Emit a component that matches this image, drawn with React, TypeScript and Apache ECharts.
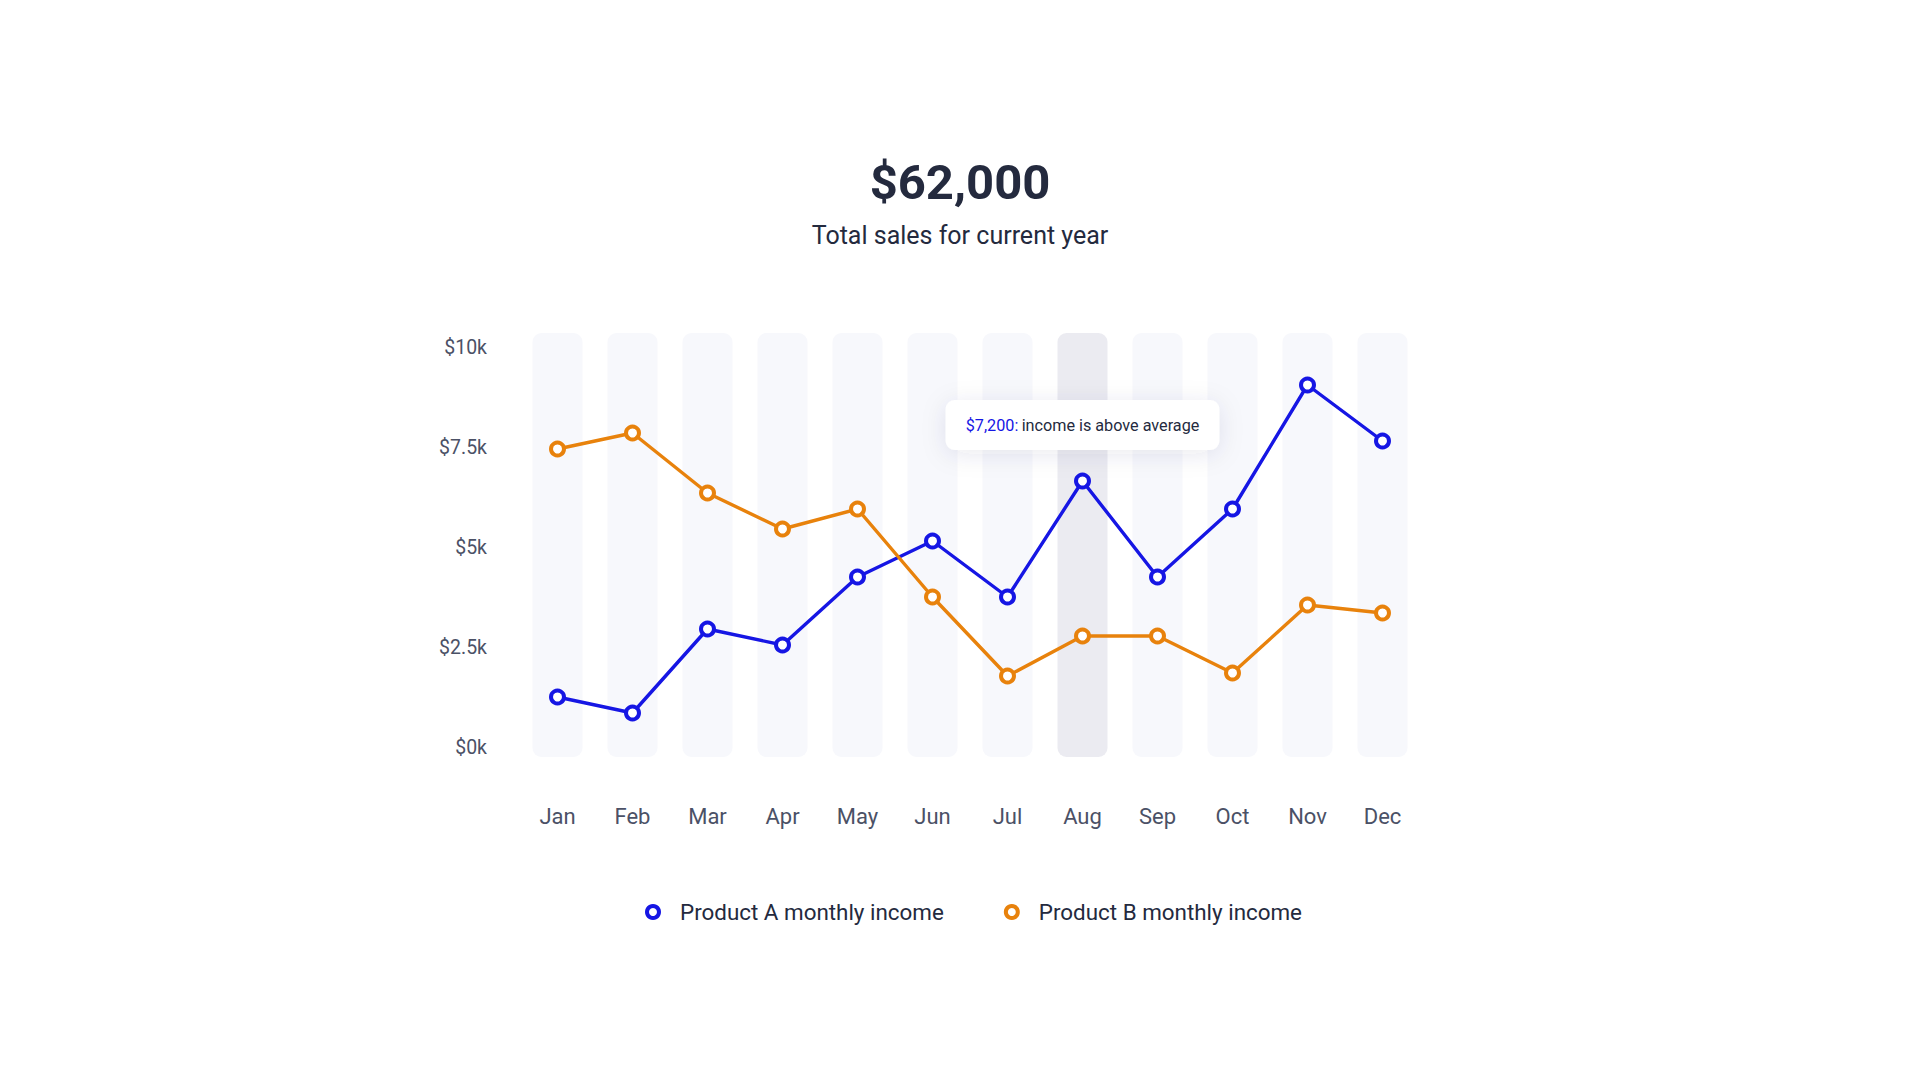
import React, { useEffect, useRef } from "react";
import * as echarts from "echarts";

const months = ["Jan", "Feb", "Mar", "Apr", "May", "Jun", "Jul", "Aug", "Sep", "Oct", "Nov", "Dec"];
const productA = [1250, 850, 2950, 2550, 4250, 5150, 3750, 6650, 4250, 5950, 9050, 7650];
const productB = [7450, 7850, 6350, 5450, 5950, 3750, 1775, 2775, 2775, 1850, 3550, 3350];
const yTicks = [0, 2500, 5000, 7500, 10000];
const highlightedMonth = "Aug";
const noteMonth = "Aug";
const noteValue = 8050;
const noteAmount = "$7,200:";
const noteText = "income is above average";
const totalSales = "$62,000";
const subtitle = "Total sales for current year";
const seriesNames = ["Product A monthly income", "Product B monthly income"];

const BAND_TOP = 10350;
const BAND_BOTTOM = -250;

const BLUE = "#1616e4";
const ORANGE = "#e8820c";
const DARK = "#242a3e";
const AXIS = "#4b5166";
const FONT = "Roboto, 'Noto Sans', sans-serif";

export default function App() {
  const ref = useRef<HTMLDivElement>(null);

  useEffect(() => {
    if (!ref.current) return;
    const chart = echarts.init(ref.current, null, { renderer: "svg" });

    const lineSeries = (name: string, data: number[], color: string) => ({
      name,
      type: "line",
      data,
      z: 5,
      symbol: "circle",
      symbolSize: 13,
      showSymbol: true,
      lineStyle: { color, width: 3.4 },
      itemStyle: { color: "#ffffff", borderColor: color, borderWidth: 4 },
      emphasis: { disabled: true },
    });

    chart.setOption({
      animation: false,
      backgroundColor: "#ffffff",
      textStyle: { fontFamily: FONT },
      title: [
        {
          text: totalSales,
          left: "center",
          top: 152,
          textStyle: { fontSize: 49, fontWeight: 700, color: DARK, fontFamily: FONT, lineHeight: 50 },
        },
        {
          text: subtitle,
          left: "center",
          top: 217,
          textStyle: { fontSize: 25, fontWeight: 400, color: DARK, fontFamily: FONT, lineHeight: 27 },
        },
      ],
      legend: {
        left: 640,
        top: 896,
        icon: "circle",
        itemWidth: 12,
        itemHeight: 12,
        itemGap: 60,
        selectedMode: false,
        data: [
          { name: seriesNames[0], itemStyle: { color: "#fff", borderColor: BLUE, borderWidth: 4 } },
          { name: seriesNames[1], itemStyle: { color: "#fff", borderColor: ORANGE, borderWidth: 4 } },
        ],
        textStyle: { fontSize: 22.4, color: DARK, fontFamily: FONT, padding: [0, 0, 0, 16] },
      },
      grid: { left: 520, right: 500, top: 347, bottom: 333, containLabel: false },
      xAxis: {
        type: "category",
        data: months,
        boundaryGap: true,
        axisLine: { show: false },
        axisTick: { show: false },
        splitLine: { show: false },
        axisLabel: { color: AXIS, fontSize: 22, margin: 58, fontFamily: FONT },
      },
      yAxis: {
        type: "value",
        min: yTicks[0],
        max: yTicks[yTicks.length - 1],
        interval: yTicks[1] - yTicks[0],
        axisLine: { show: false },
        axisTick: { show: false },
        splitLine: { show: false },
        axisLabel: {
          color: AXIS,
          fontSize: 19.5,
          margin: 33,
          fontFamily: FONT,
          formatter: (v: number) => "$" + v / 1000 + "k",
        },
      },
      series: [
        {
          type: "custom",
          name: "bands",
          z: 1,
          silent: true,
          clip: false,
          data: months.map((m, i) => [i, BAND_TOP, BAND_BOTTOM]),
          renderItem: (params: any, api: any) => {
            const idx = api.value(0);
            const top = api.coord([idx, api.value(1)]);
            const bottom = api.coord([idx, api.value(2)]);
            const w = 50;
            return {
              type: "rect",
              shape: { x: top[0] - w / 2, y: top[1], width: w, height: bottom[1] - top[1], r: 9 },
              style: { fill: months[idx] === highlightedMonth ? "#ebebf1" : "#f7f8fc" },
            };
          },
        },
        lineSeries(seriesNames[0], productA, BLUE),
        lineSeries(seriesNames[1], productB, ORANGE),
        {
          type: "custom",
          name: "note",
          z: 10,
          silent: true,
          clip: false,
          data: [[months.indexOf(noteMonth), noteValue]],
          renderItem: (params: any, api: any) => {
            const p = api.coord([api.value(0), api.value(1)]);
            return {
              type: "text",
              x: p[0],
              y: p[1],
              style: {
                text: "{a|" + noteAmount + "} {b|" + noteText + "}",
                align: "center",
                verticalAlign: "middle",
                backgroundColor: "#ffffff",
                borderRadius: 9,
                padding: [16, 20, 16, 20],
                shadowBlur: 24,
                shadowColor: "rgba(40, 50, 90, 0.10)",
                shadowOffsetY: 4,
                rich: {
                  a: { fill: BLUE, fontSize: 16.2, fontFamily: FONT, lineHeight: 18 },
                  b: { fill: DARK, fontSize: 16.2, fontFamily: FONT, lineHeight: 18 },
                },
              },
            };
          },
        },
      ],
    });

    return () => chart.dispose();
  }, []);

  return (
    <div
      ref={ref}
      style={{ position: "fixed", left: 0, top: 0, width: 1920, height: 1080, background: "#ffffff" }}
    />
  );
}
